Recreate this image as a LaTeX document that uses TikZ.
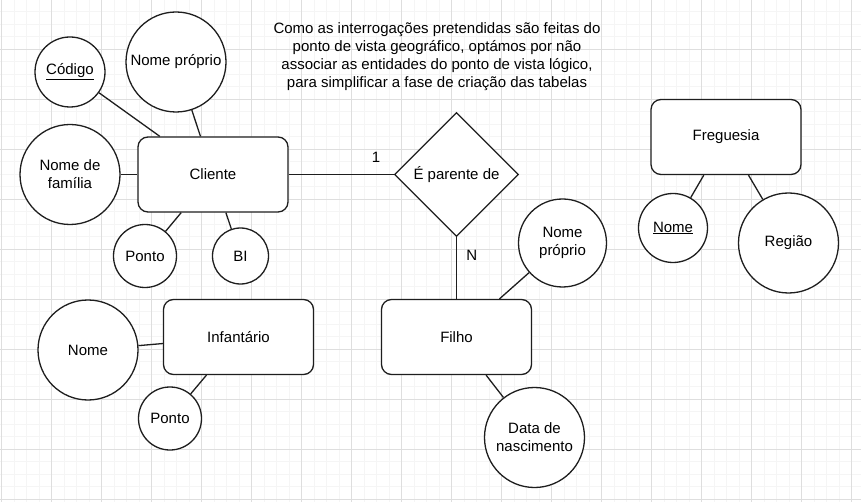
\documentclass[tikz,border=0pt]{standalone}
\usepackage{fontspec}
\setmainfont{Liberation Sans}
\usepackage{tikz}
\usetikzlibrary{shapes.geometric}
\definecolor{er-line}{RGB}{30,30,30}
\definecolor{grid-minor}{RGB}{245,245,245}
\definecolor{grid-major}{RGB}{222,222,222}

\begin{document}
\begin{tikzpicture}[x=1pt, y=-1pt, font=\fontsize{15}{18}\selectfont,
    entity/.style={draw=er-line, fill=white, line width=1.3pt, rounded corners=10pt, minimum width=150pt, minimum height=75pt},
    attr/.style={draw=er-line, fill=white, line width=1.3pt, circle, inner sep=0pt, align=center},
    relation/.style={draw=er-line, fill=white, line width=1.3pt, diamond, aspect=1, inner sep=0pt, minimum width=124pt, minimum height=124pt},
    link/.style={draw=er-line, line width=1.3pt}]
            % Background grid
            \fill[white] (0,0) rectangle (861,502);
            \useasboundingbox (0,0) rectangle (861,502);
            \foreach \k in {0,...,68} \draw[grid-minor, line width=0.9pt] ({1.7+12.5*\k},0) -- ({1.7+12.5*\k},502);
            \foreach \k in {0,...,40} \draw[grid-minor, line width=0.9pt] (0,{-0.7+12.5*\k}) -- (861,{-0.7+12.5*\k});
            \foreach \k in {0,...,17} \draw[grid-major, line width=1pt] ({1.7+50*\k},0) -- ({1.7+50*\k},502);
            \foreach \k in {1,...,10} \draw[grid-major, line width=1pt] (0,{-0.7+50*\k}) -- (861,{-0.7+50*\k});
            
            % Note
            \node[align=center] (nota) at (437,56.5) {Como as interrogações pretendidas são feitas do\\ponto de vista geográfico, optámos por não\\associar as entidades do ponto de vista lógico,\\para simplificar a fase de criação das tabelas};
            
            % Entities
            \node[entity] (cliente) at (213,174.5) {Cliente};
            \node[entity] (filho) at (456.5,337) {Filho};
            \node[entity] (infantario) at (238.5,337) {Infantário};
            \node[entity] (freguesia) at (726,137) {Freguesia};
            
            % Relationship
            \node[relation] (parente) at (456.5,174.5) {É parente de};
            
            % Attributes of Cliente
            \node[attr, minimum size=70pt] (codigo) at (70,72) {\underline{Código}};
            \node[attr, minimum size=100pt] (nomeProprio) at (176,62) {Nome próprio};
            \node[attr, minimum size=100pt] (nomeFamilia) at (70,174.5) {Nome de\\família};
            \node[attr, minimum size=63pt] (pontoCli) at (145,256) {Ponto};
            \node[attr, minimum size=56pt] (bi) at (240.5,256) {BI};
            
            % Attributes of Filho
            \node[attr, minimum size=88pt] (nomeFilho) at (562.5,243) {Nome\\próprio};
            \node[attr, minimum size=100pt] (dataNasc) at (534.5,437.5) {Data de\\nascimento};
            
            % Attributes of Infantario
            \node[attr, minimum size=100pt] (nomeInf) at (88,350) {Nome};
            \node[attr, minimum size=63pt] (pontoInf) at (170,418.5) {Ponto};
            
            % Attributes of Freguesia
            \node[attr, minimum size=69pt] (nomeFreg) at (673,228) {\underline{Nome}};
            \node[attr, minimum size=100pt] (regiao) at (788.5,243) {Região};
            
            % Connections
            \draw[link] (codigo) -- (cliente);
            \draw[link] (nomeProprio) -- (cliente);
            \draw[link] (nomeFamilia) -- (cliente);
            \draw[link] (pontoCli) -- (cliente);
            \draw[link] (bi) -- (cliente);
            \draw[link] (cliente) -- node[pos=0.83, above=8pt] (um) {1} (parente);
            \draw[link] (parente) -- node[pos=0.3, right=6pt] (muitos) {N} (filho);
            \draw[link] (nomeFilho) -- (filho);
            \draw[link] (dataNasc) -- (filho);
            \draw[link] (nomeInf) -- (infantario);
            \draw[link] (pontoInf) -- (infantario);
            \draw[link] (nomeFreg) -- (freguesia);
            \draw[link] (regiao) -- (freguesia);
        \end{tikzpicture}
\end{document}
